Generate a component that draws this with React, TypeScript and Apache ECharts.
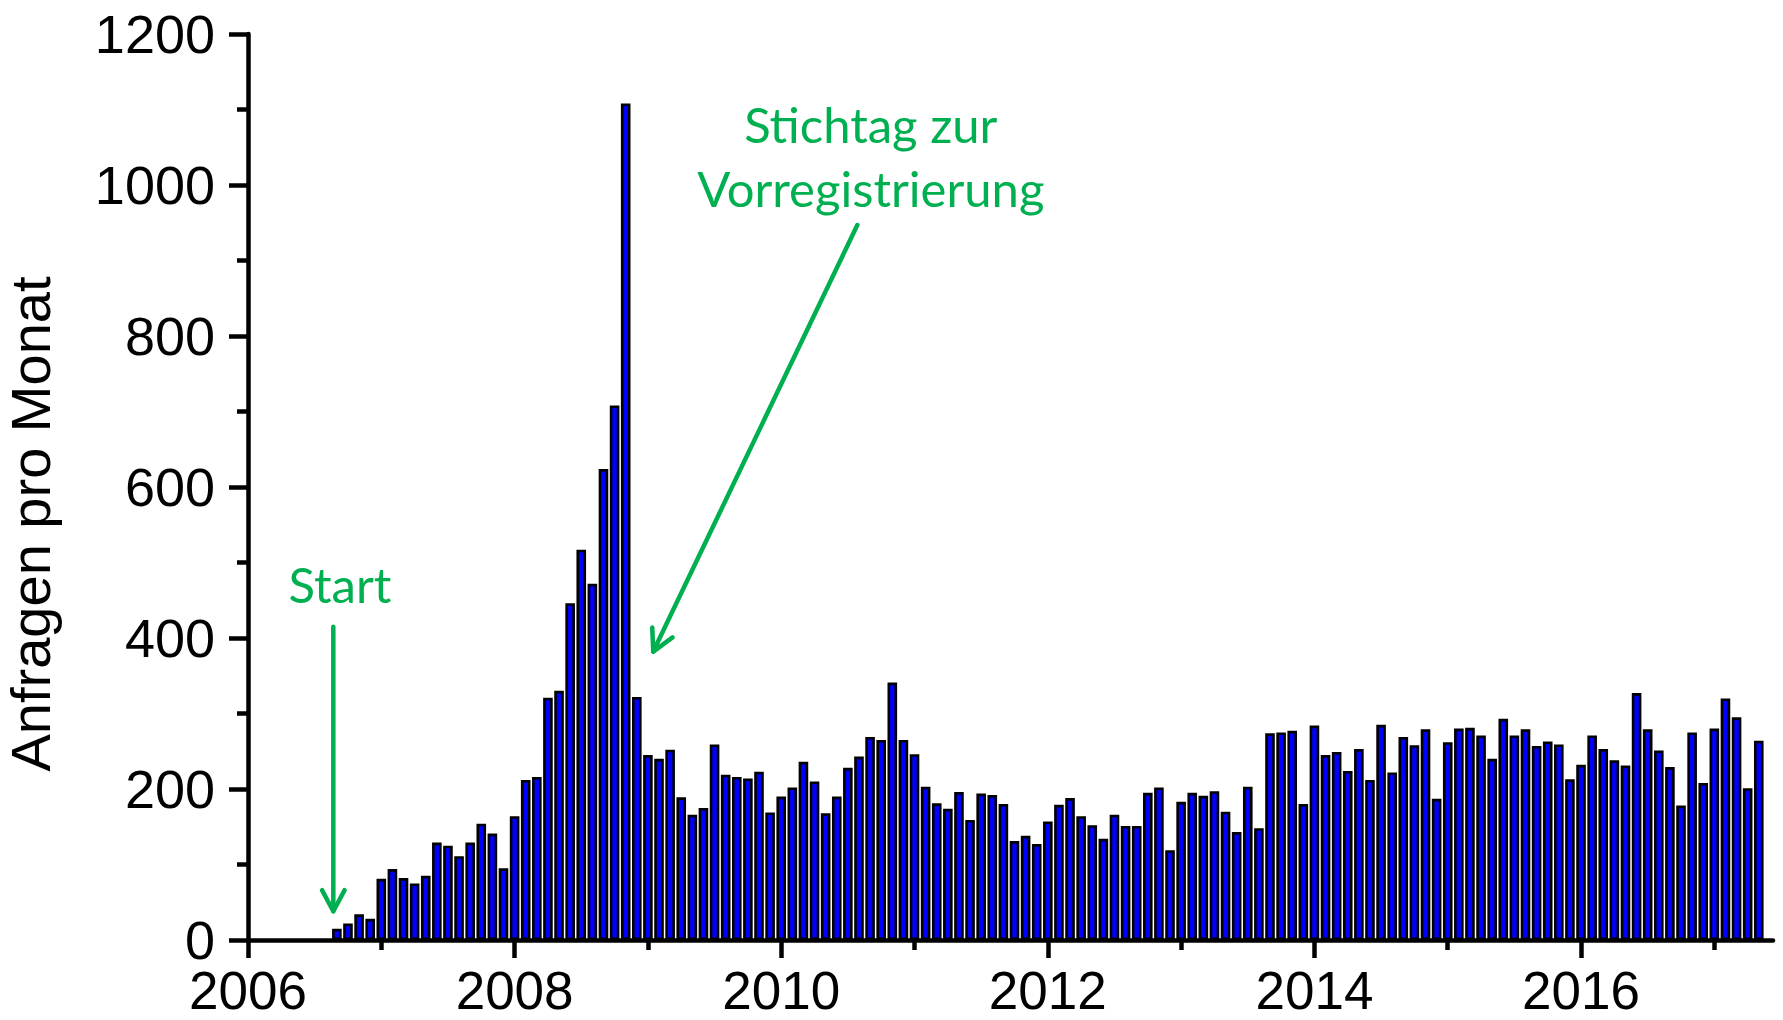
import React, { useEffect, useRef } from "react";
import * as echarts from "echarts";

// First month with data: September 2006
const START_YEAR = 2006;
const START_MONTH = 9;

// Monthly request counts ("Anfragen pro Monat"), per calendar year
const requests2006 = [15, 22, 34, 28];
const requests2007 = [81, 94, 82, 75, 85, 129, 125, 111, 129, 154, 141, 95];
const requests2008 = [164, 212, 216, 321, 330, 446, 517, 472, 624, 708, 1108, 322];
const requests2009 = [245, 240, 252, 189, 166, 175, 259, 219, 216, 214, 223, 169];
const requests2010 = [190, 202, 236, 210, 168, 190, 228, 243, 269, 265, 341, 265];
const requests2011 = [246, 203, 181, 174, 196, 159, 194, 192, 180, 131, 138, 127];
const requests2012 = [157, 179, 188, 164, 152, 134, 166, 151, 151, 195, 202, 119];
const requests2013 = [183, 195, 191, 197, 170, 143, 203, 148, 274, 275, 277, 180];
const requests2014 = [284, 245, 249, 224, 253, 212, 285, 222, 269, 258, 279, 187];
const requests2015 = [262, 280, 281, 271, 240, 293, 271, 279, 257, 263, 259, 213];
const requests2016 = [232, 271, 253, 238, 231, 327, 279, 251, 229, 178, 275, 208];
const requests2017 = [280, 320, 295, 201, 264];

const yearLabels = [2006, 2008, 2010, 2012, 2014, 2016];
const minorYearTicks = [2007, 2009, 2011, 2013, 2015, 2017];
const yTicks = { min: 0, max: 1200, interval: 200 };

const Y_TITLE = "Anfragen pro Monat";
const START_LABEL = "Start";
const DEADLINE_LABEL = ["Stichtag zur", "Vorregistrierung"];

// Annotation anchors in data coordinates (decimal year, requests)
const startText = [2006.69, 471];
const startArrow = { from: [2006.64, 415], to: [2006.64, 38] };
const deadlineText = [[2010.672, 1081], [2010.672, 996]];
const deadlineArrow = { from: [2010.571, 947], to: [2009.04, 382] };

const allMonths = [
  requests2006, requests2007, requests2008, requests2009, requests2010, requests2011,
  requests2012, requests2013, requests2014, requests2015, requests2016, requests2017,
].flat();

const barData = allMonths.map((v, i) => [START_YEAR + (START_MONTH - 1 + i) / 12, v]);

const GREEN = "#00B050";
const AXIS_FONT = "'Liberation Sans', Arial, Helvetica, sans-serif";
const NOTE_FONT = "Lato, 'Open Sans', sans-serif";

export default function App() {
  const ref = useRef<HTMLDivElement>(null);

  useEffect(() => {
    document.body.style.margin = "0";
    const chart = echarts.init(ref.current!, undefined, { renderer: "svg" });
    const axisLine = { show: true, lineStyle: { color: "#000", width: 4.5, cap: "round" } };
    chart.setOption({
      animation: false,
      backgroundColor: "#fff",
      grid: { left: 248, right: 10, top: 34, bottom: 80, containLabel: false, outerBoundsMode: "none" },
      xAxis: [
        {
          type: "value",
          min: 2006,
          max: 2017.44,
          position: "bottom",
          axisLine,
          axisTick: { show: true, customValues: yearLabels, length: 18, lineStyle: { color: "#000", width: 4.5 } },
          axisLabel: {
            customValues: yearLabels,
            fontSize: 53,
            lineHeight: 40,
            color: "#000",
            fontFamily: AXIS_FONT,
            margin: 30,
            formatter: (v: number) => String(Math.round(v)),
          },
          splitLine: { show: false },
        },
        {
          type: "value",
          min: 2006,
          max: 2017.44,
          position: "bottom",
          offset: 0,
          axisLine: { show: false },
          axisTick: { show: true, customValues: minorYearTicks, length: 10, lineStyle: { color: "#000", width: 4.5 } },
          axisLabel: { show: false },
          splitLine: { show: false },
        },
      ],
      yAxis: {
        type: "value",
        min: yTicks.min,
        max: yTicks.max,
        interval: yTicks.interval,
        axisLine,
        axisTick: { show: true, length: 19, lineStyle: { color: "#000", width: 4.5 } },
        minorTick: { show: true, splitNumber: 2, length: 11, lineStyle: { color: "#000", width: 4.5 } },
        axisLabel: {
          fontSize: 54,
          lineHeight: 44,
          color: "#000",
          fontFamily: AXIS_FONT,
          margin: 33,
          formatter: (v: number) => String(v),
        },
        splitLine: { show: false },
        minorSplitLine: { show: false },
        name: Y_TITLE,
        nameLocation: "middle",
        nameGap: 190,
        nameTextStyle: {
          fontSize: 56,
          color: "#000",
          fontFamily: "'Liberation Sans Narrow', 'Arial Narrow', sans-serif",
          padding: [0, 74, 0, 0],
        },
      },
      series: [
        {
          type: "bar",
          xAxisIndex: 0,
          yAxisIndex: 0,
          data: barData,
          barWidth: 9.6,
          itemStyle: { color: "#0000FF", borderColor: "#000", borderWidth: 2.6 },
        },
      ],
    });

    const px = (p: number[]) => chart.convertToPixel({ xAxisIndex: 0, yAxisIndex: 0 }, p) as number[];
    const arrowShapes = (from: number[], to: number[]) => {
      const a = px(from);
      const b = px(to);
      const dx = a[0] - b[0];
      const dy = a[1] - b[1];
      const len = Math.hypot(dx, dy);
      const ux = dx / len;
      const uy = dy / len;
      const wing = 24;
      const ang = (28 * Math.PI) / 180;
      const rot = (s: number) => [
        b[0] + wing * (ux * Math.cos(s * ang) - uy * Math.sin(s * ang)),
        b[1] + wing * (ux * Math.sin(s * ang) + uy * Math.cos(s * ang)),
      ];
      const style = { stroke: GREEN, lineWidth: 4.5, lineCap: "round", lineJoin: "round", fill: null };
      return [
        { type: "polyline", shape: { points: [a, b] }, style },
        { type: "polyline", shape: { points: [rot(1), b, rot(-1)] }, style },
      ];
    };
    const textEl = (p: number[], text: string) => {
      const q = px(p);
      return {
        type: "text",
        x: q[0],
        y: q[1],
        style: {
          text,
          fill: GREEN,
          fontSize: 49,
          fontFamily: NOTE_FONT,
          align: "center",
          verticalAlign: "middle",
        },
      };
    };
    chart.setOption({
      graphic: [
        ...arrowShapes(startArrow.from, startArrow.to),
        ...arrowShapes(deadlineArrow.from, deadlineArrow.to),
        textEl(startText, START_LABEL),
        textEl(deadlineText[0], DEADLINE_LABEL[0]),
        textEl(deadlineText[1], DEADLINE_LABEL[1]),
      ],
    });

    return () => chart.dispose();
  }, []);

  return <div ref={ref} style={{ width: 1783, height: 1020 }} />;
}
